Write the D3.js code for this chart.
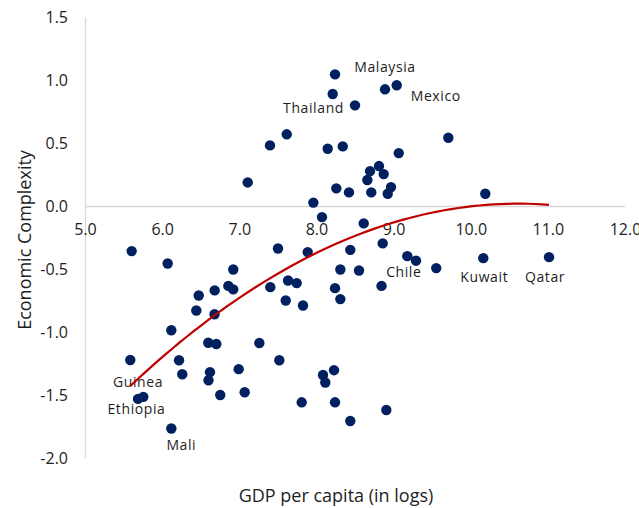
<!DOCTYPE html>
<html>
<head>
<meta charset="utf-8">
<script src="https://cdn.jsdelivr.net/npm/d3@7"></script>
<style>
  html, body { margin: 0; padding: 0; background: #ffffff; }
  svg { display: block; font-family: "Open Sans", "Noto Sans", sans-serif; }
</style>
</head>
<body>
<svg id="chart" width="639" height="508"></svg>
<script>
// GDP per capita (log) for each country
const gdpLog = [
  8.241, 8.211, 8.889, 9.041, 8.500, 7.615, 7.398, 8.146, 8.341, 9.710,
  9.067, 8.811, 8.695, 8.872, 8.660, 7.109, 8.258, 8.422, 8.711, 8.967,
  8.924, 7.960, 8.072, 8.613, 8.859, 10.189, 9.178, 9.291, 9.553, 10.163,
  11.015, 8.844, 7.502, 7.887, 8.439, 6.922, 8.310, 8.552, 6.474, 6.681,
  6.858, 6.922, 7.402, 7.632, 7.744, 8.241, 7.602, 7.826, 8.310, 6.443,
  6.679, 6.119, 6.598, 6.702, 7.260, 7.519, 6.992, 6.620, 6.601, 6.753,
  7.070, 8.085, 8.228, 8.115, 7.809, 8.241, 8.906, 8.439, 5.605, 6.072,
  5.587, 6.219, 6.261, 5.687, 5.756, 6.119
];

// Economic Complexity Index for each country
const eci = [
  1.045, 0.889, 0.926, 0.958, 0.799, 0.569, 0.481, 0.454, 0.473, 0.542,
  0.420, 0.317, 0.277, 0.253, 0.206, 0.187, 0.140, 0.108, 0.108, 0.150,
  0.097, 0.027, -0.088, -0.138, -0.297, 0.097, -0.398, -0.434, -0.493, -0.414,
  -0.406, -0.634, -0.337, -0.366, -0.348, -0.504, -0.504, -0.512, -0.710, -0.670,
  -0.634, -0.662, -0.644, -0.591, -0.612, -0.652, -0.750, -0.790, -0.739, -0.829,
  -0.859, -0.986, -1.085, -1.095, -1.087, -1.224, -1.295, -1.319, -1.383, -1.500,
  -1.478, -1.341, -1.303, -1.401, -1.558, -1.558, -1.619, -1.706, -0.358, -0.456,
  -1.222, -1.224, -1.335, -1.531, -1.515, -1.766
];

// Named countries and the point each name belongs to
const labelNames  = ["Malaysia", "Thailand", "Mexico", "Chile", "Kuwait", "Qatar", "Guinea", "Ethiopia", "Mali"];
const labelPoints = [2, 4, 3, 26, 29, 30, 73, 73, 75];

const xTicks = [5, 6, 7, 8, 9, 10, 11, 12];
const yTicks = [-2, -1.5, -1, -0.5, 0, 0.5, 1, 1.5];

const xTitle = "GDP per capita (in logs)";
const yTitle = "Economic Complexity";

// label placement relative to its point: [dx, dy, anchor]
const labelPlacement = {
  "Malaysia": [0, -17, "middle"],
  "Thailand": [-11, 7.5, "end"],
  "Mexico":   [14, 15.5, "start"],
  "Chile":    [-3.5, 20.5, "middle"],
  "Kuwait":   [1, 23.5, "middle"],
  "Qatar":    [-4, 24.5, "middle"],
  "Guinea":   [0, -11.5, "middle"],
  "Ethiopia": [-1.5, 15, "middle"],
  "Mali":     [10, 21, "middle"]
};

const svg = d3.select("#chart");
const textColor = "#1e1e1e";
const axisColor = "#d9d9d9";

const x = d3.scaleLinear().domain([5, 12]).range([85, 625]);
const y = d3.scaleLinear().domain([-2, 1.5]).range([458, 17]);

// vertical axis at x = 5
const yAxis = svg.append("g")
  .attr("transform", `translate(${x(5)},0)`)
  .call(d3.axisLeft(y).tickValues(yTicks).tickSize(0).tickPadding(17)
    .tickFormat(d3.format(".1f")));
yAxis.select(".domain").attr("stroke", axisColor).attr("stroke-width", 1.3);
yAxis.selectAll("text")
  .attr("font-family", "Open Sans")
  .attr("font-size", 16).attr("fill", textColor)
  .text(d => d3.format(".1f")(d).replace("−", "-"));

// horizontal axis crossing at y = 0
const xAxis = svg.append("g")
  .attr("transform", `translate(0,${y(0)})`)
  .call(d3.axisBottom(x).tickValues(xTicks).tickSize(0).tickPadding(18)
    .tickFormat(d3.format(".1f")));
xAxis.select(".domain").attr("stroke", axisColor).attr("stroke-width", 1.3);
xAxis.selectAll("text")
  .attr("font-family", "Open Sans")
  .attr("font-size", 16).attr("fill", textColor);

// data points
const points = gdpLog.map((g, i) => ({ g, e: eci[i] }));
svg.append("g").selectAll("circle")
  .data(points)
  .join("circle")
  .attr("cx", d => x(d.g))
  .attr("cy", d => y(d.e))
  .attr("r", 5.2)
  .attr("fill", "#002060");

// country labels
svg.append("g").selectAll("text")
  .data(labelNames.map((n, i) => ({ name: n, p: points[labelPoints[i]] })))
  .join("text")
  .attr("x", d => x(d.p.g) + labelPlacement[d.name][0])
  .attr("y", d => y(d.p.e) + labelPlacement[d.name][1])
  .attr("text-anchor", d => labelPlacement[d.name][2])
  .attr("font-size", 14)
  .attr("letter-spacing", 0.6)
  .attr("fill", textColor)
  .text(d => d.name);

// second-order polynomial trend (least squares over all countries)
function quadFit(xs, ys) {
  const s = [0, 0, 0, 0, 0], t = [0, 0, 0];
  xs.forEach((xi, i) => {
    let p = 1;
    for (let k = 0; k < 5; k++) { s[k] += p; if (k < 3) t[k] += p * ys[i]; p *= xi; }
  });
  const A = [[s[0], s[1], s[2], t[0]], [s[1], s[2], s[3], t[1]], [s[2], s[3], s[4], t[2]]];
  for (let c = 0; c < 3; c++) {
    for (let r = c + 1; r < 3; r++) {
      const f = A[r][c] / A[c][c];
      for (let k = c; k < 4; k++) A[r][k] -= f * A[c][k];
    }
  }
  const b = [0, 0, 0];
  for (let r = 2; r >= 0; r--) {
    let v = A[r][3];
    for (let k = r + 1; k < 3; k++) v -= A[r][k] * b[k];
    b[r] = v / A[r][r];
  }
  return b;
}
const coef = quadFit(gdpLog, eci);
const [gMin, gMax] = d3.extent(gdpLog);
const trend = d3.range(0, 61).map(i => {
  const g = gMin + (gMax - gMin) * i / 60;
  return [g, coef[0] + coef[1] * g + coef[2] * g * g];
});
svg.append("path")
  .datum(trend)
  .attr("fill", "none")
  .attr("stroke", "#c00000")
  .attr("stroke-width", 2.2)
  .attr("d", d3.line().x(d => x(d[0])).y(d => y(d[1])));

// axis titles
svg.append("text")
  .attr("x", 336).attr("y", 502)
  .attr("text-anchor", "middle")
  .attr("font-size", 18).attr("fill", textColor)
  .text(xTitle);

svg.append("text")
  .attr("transform", "translate(31,240) rotate(-90)")
  .attr("text-anchor", "middle")
  .attr("font-size", 18).attr("fill", textColor)
  .text(yTitle);
</script>
</body>
</html>
